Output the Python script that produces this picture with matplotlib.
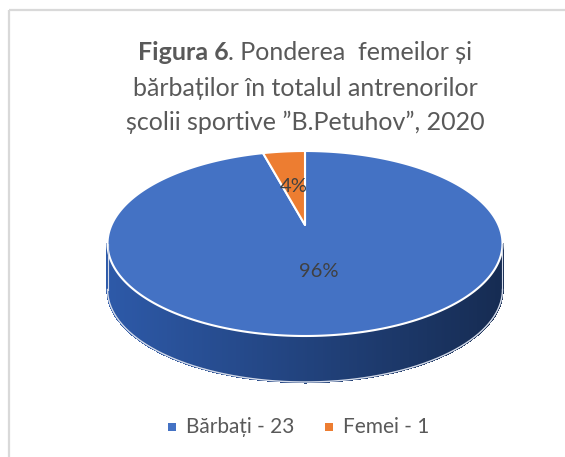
import numpy as np
import matplotlib
matplotlib.use("Agg")
import matplotlib.pyplot as plt
from matplotlib.patches import Polygon, Rectangle
import matplotlib.colors as mcolors

# ---------------- data ----------------
categories = ["Bărbați", "Femei"]
values = [23, 1]
slice_colors = ["#4472C4", "#ED7D31"]
title_bold = "Figura 6"
title_line1_rest = ". Ponderea  femeilor și"
title_line2 = "bărbaților în totalul antrenorilor"
title_line3 = "școlii sportive ”B.Petuhov”, 2020"

FONT = ["Lato", "DejaVu Sans"]
TXT = "#595959"

W, H = 565, 457
fig = plt.figure(figsize=(W / 100, H / 100), dpi=100)
ax = fig.add_axes([0, 0, 1, 1])
ax.set_xlim(0, W)
ax.set_ylim(H, 0)
ax.axis("off")

# chart border (left/top visible)
ax.add_patch(Rectangle((8.5, 9.5), 600, 500, fill=False, ec="#D9D9D9", lw=1.6))

# ---------------- 3D pie geometry ----------------
CX, CY = 305.0, 225.0
A, B, K = 193.5, 88.8, 0.2
D = 46.0


def proj(r, t, dz=0.0):
    u = r * np.cos(t)
    v = r * np.sin(t)
    w = 1 + K * v
    return CX + A * u / w, CY - B * v / w + dz


total = float(sum(values))
fracs = [v / total for v in values]
# Excel: first slice starts at 12 o'clock, going clockwise
start = np.pi / 2
bounds = []
cur = start
for f in fracs:
    a1 = cur
    a0 = cur - 2 * np.pi * f
    bounds.append((a0, a1))
    cur = a0


def slice_of(t):
    for i, (a0, a1) in enumerate(bounds):
        tt = t
        while tt > a1:
            tt -= 2 * np.pi
        while tt < a0:
            tt += 2 * np.pi
        if a0 <= tt <= a1:
            return i
    return 0


def side_color(base, s):
    h, sat, val = mcolors.rgb_to_hsv(mcolors.to_rgb(base))
    sat = min(1.0, sat * 1.12)
    val = val * (0.86 - 0.44 * s)
    return mcolors.hsv_to_rgb((h, sat, val))


# side (front visible part)
ts_l = np.pi + np.arcsin(K)
ts_r = 2 * np.pi - np.arcsin(K)
ts = np.linspace(ts_l, ts_r, 300)
xl, _ = proj(1, ts_l)
xr, _ = proj(1, ts_r)
for i in range(len(ts) - 1):
    t0, t1 = ts[i], ts[i + 1]
    p0 = proj(1, t0)
    p1 = proj(1, t1)
    q1 = proj(1, t1, D)
    q0 = proj(1, t0, D)
    s = ((p0[0] + p1[0]) / 2 - xl) / (xr - xl)
    c = side_color(slice_colors[slice_of((t0 + t1) / 2)], s)
    ax.add_patch(Polygon([p0, p1, q1, q0], closed=True, fc=c, ec=c, lw=1.0,
                         antialiased=False))

bx, by = proj(1, ts, D)
ax.plot(bx, by, color="#D5DCEA", lw=1.0)
for t in (ts_l, ts_r):
    x0, y0 = proj(1, t)
    ax.plot([x0, x0], [y0, y0 + D], color="#D5DCEA", lw=0.8)

# top face slices
for i, (a0, a1) in enumerate(bounds):
    tt = np.linspace(a0, a1, max(8, int(400 * fracs[i])))
    px, py = proj(1, tt)
    pts = [(CX, CY)] + list(zip(px, py))
    ax.add_patch(Polygon(pts, closed=True, fc=slice_colors[i], ec="white",
                         lw=1.5, joinstyle="round"))

# data labels
for i, (a0, a1) in enumerate(bounds):
    mid = (a0 + a1) / 2
    lx, ly = proj(0.48, mid)
    pct = f"{round(fracs[i] * 100)}%"
    ax.text(lx, ly, pct, ha="center", va="center", fontsize=14.5,
            color="#404040", family=FONT)

# ---------------- title ----------------
fig.canvas.draw()
renderer = fig.canvas.get_renderer()
TFS = 18
y1, y2, y3 = 60, 96, 130
tb = ax.text(0, y1, title_bold, fontsize=TFS, weight="bold", color=TXT,
             family=FONT, ha="left", va="baseline")
tr = ax.text(0, y1, title_line1_rest, fontsize=TFS, color=TXT,
             family=FONT, ha="left", va="baseline")
wb = tb.get_window_extent(renderer).width
wr = tr.get_window_extent(renderer).width
x_start = CX - (wb + wr) / 2
tb.set_x(x_start)
tr.set_x(x_start + wb)
ax.text(CX, y2, title_line2, fontsize=TFS, color=TXT, family=FONT,
        ha="center", va="baseline")
ax.text(CX, y3, title_line3, fontsize=TFS, color=TXT, family=FONT,
        ha="center", va="baseline")

# ---------------- legend ----------------
LFS = 15
ly = 433
legend_x = [186, 343]
for i, name in enumerate(categories):
    label = f"{name} - {values[i]}"
    ax.add_patch(Rectangle((legend_x[i] - 18, ly - 10), 8, 8,
                           fc=slice_colors[i], ec="none"))
    ax.text(legend_x[i], ly, label, fontsize=LFS, color=TXT, family=FONT,
            ha="left", va="baseline")

fig.savefig("out.png", dpi=100, facecolor="white")
